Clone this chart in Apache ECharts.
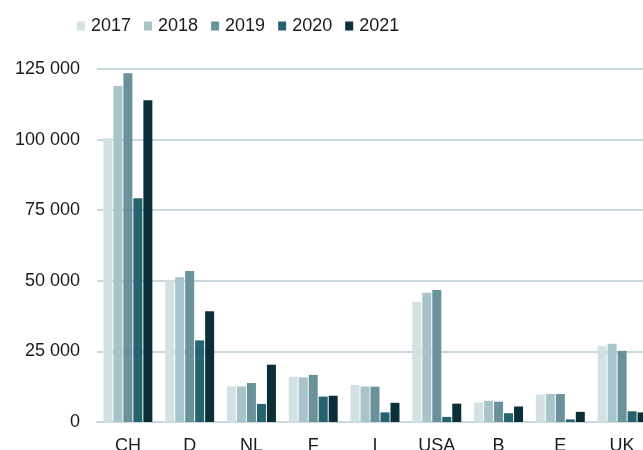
<!DOCTYPE html>
<html>
<head>
<meta charset="utf-8">
<script src="https://cdn.jsdelivr.net/npm/echarts@6/dist/echarts.min.js"></script>
<style>
  html, body { margin: 0; padding: 0; background: #fff; overflow: hidden; }
  #chart { width: 643px; height: 450px; }
</style>
</head>
<body>
<div id="chart"></div>
<script>
// 国家 / 年份
var countries = ['CH', 'D', 'NL', 'F', 'I', 'USA', 'B', 'E', 'UK'];
var years = ['2017', '2018', '2019', '2020', '2021'];
var colors = ['#d3e1e5', '#a8c4ca', '#6a929a', '#24636f', '#0b2f38'];

var v2017 = [100500, 50300, 12600, 16000, 13100, 42600, 6900, 9700, 26900];
var v2018 = [119000, 51300, 12600, 15800, 12600, 45800, 7500, 9900, 27700];
var v2019 = [123500, 53500, 13800, 16700, 12500, 46700, 7200, 9900, 25200];
var v2020 = [79200, 28900, 6400, 9000, 3400, 1800, 3100, 900, 3800];
var v2021 = [113900, 39200, 20300, 9300, 6800, 6500, 5500, 3600, 3400];

var yTicks = [0, 25000, 50000, 75000, 100000, 125000];

window.onload = function () {
    var chartDom = document.getElementById('chart');
    var myChart = echarts.init(chartDom);
    var allValues = [v2017, v2018, v2019, v2020, v2021];
    var gridColor = '#c9d9de';
    var font = 'Liberation Sans, Arial, sans-serif';

    var series = years.map(function (y, i) {
        return {
            name: y,
            type: 'bar',
            data: allValues[i],
            barWidth: 9,
            barGap: '11%',
            itemStyle: { color: colors[i] }
        };
    });

    var option = {
        animation: false,
        color: colors,
        textStyle: { fontFamily: font },
        legend: {
            data: years,
            left: 72,
            top: 12,
            itemWidth: 8,
            itemHeight: 9,
            itemGap: 13,
            icon: 'rect',
            textStyle: { fontSize: 18, color: '#1a1a1a', fontFamily: font, padding: [0, 0, 0, 1] }
        },
        grid: {
            left: 97,
            top: 69,
            width: 556,
            height: 353,
            containLabel: false,
            outerBoundsMode: 'none'
        },
        xAxis: {
            type: 'category',
            data: countries,
            axisLine: { lineStyle: { color: gridColor, width: 2 } },
            axisTick: { show: false },
            axisLabel: { fontSize: 18, color: '#1a1a1a', margin: 15, fontFamily: font }
        },
        yAxis: {
            type: 'value',
            min: yTicks[0],
            max: yTicks[yTicks.length - 1],
            interval: 25000,
            axisLine: { show: false },
            axisTick: { show: false },
            splitLine: { lineStyle: { color: gridColor, width: 2 } },
            axisLabel: {
                fontSize: 18,
                color: '#1a1a1a',
                margin: 17,
                fontFamily: font,
                formatter: function (a) {
                    return String(a).replace(/\B(?=(\d{3})+(?!\d))/g, ' ');
                }
            }
        },
        series: series
    };

    option && myChart.setOption(option);
};
</script>
</body>
</html>
